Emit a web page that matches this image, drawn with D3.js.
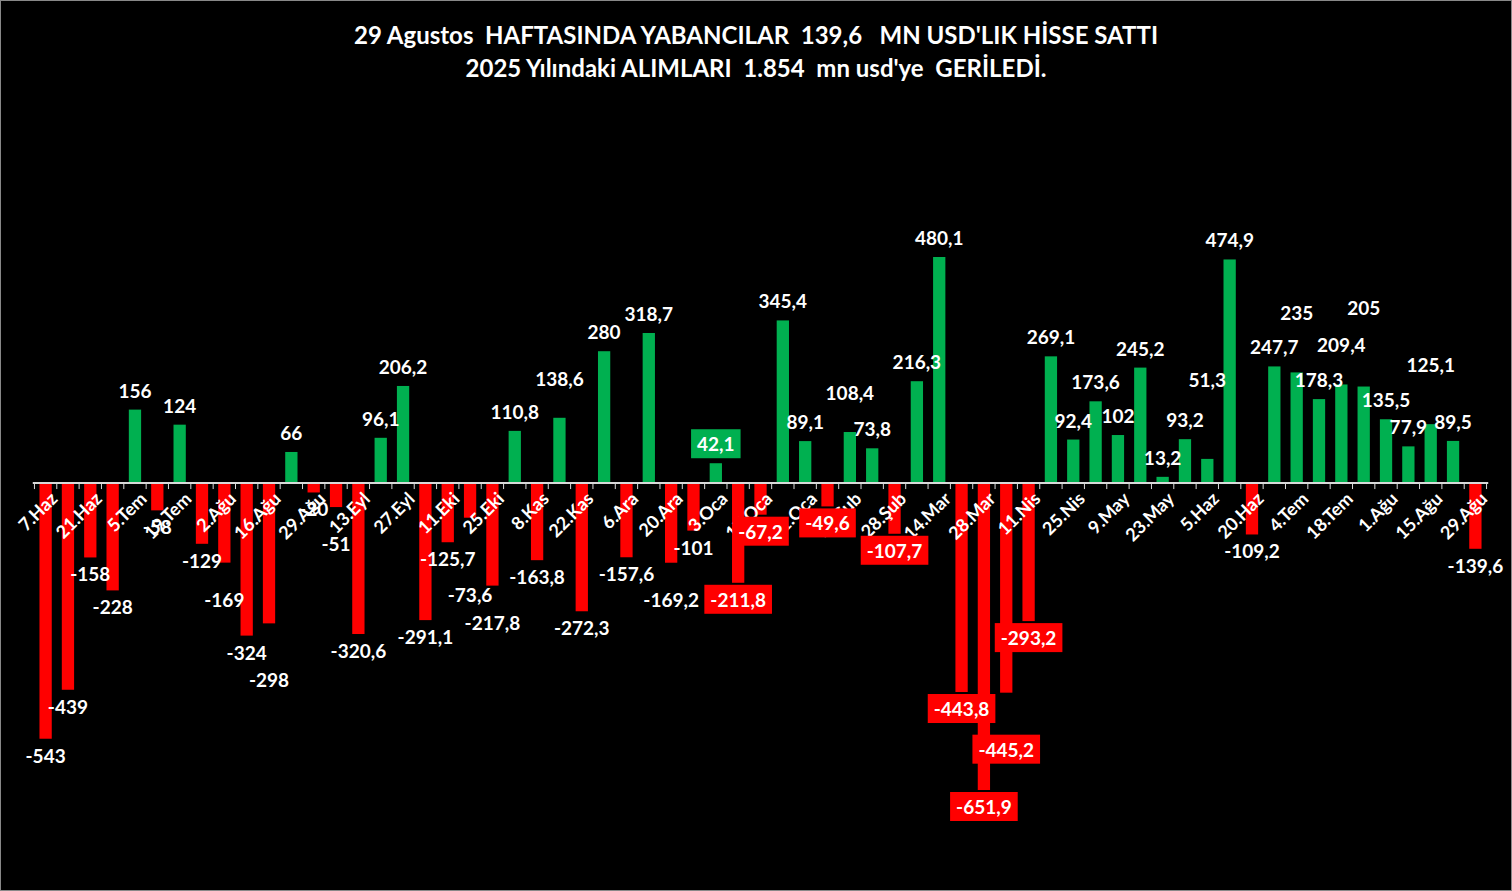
<!DOCTYPE html>
<html><head><meta charset="utf-8">
<script src="https://cdn.jsdelivr.net/npm/d3@7"></script>
<style>body{margin:0;background:#000}svg{display:block}text{font-family:Lato,"Open Sans",sans-serif;font-weight:bold}</style>
</head><body><svg id="c" width="1512" height="891"></svg>
<script>
const titleLines = ["29 Agustos  HAFTASINDA YABANCILAR  139,6   MN USD'LIK HİSSE SATTI","2025 Yılındaki ALIMLARI  1.854  mn usd'ye  GERİLEDİ."];
const values = [-543,-439,-158,-228,156,-58,124,-129,-169,-324,-298,66,-20,-51,-320.6,96.1,206.2,-291.1,-125.7,-73.6,-217.8,110.8,-163.8,138.6,-272.3,280,-157.6,318.7,-169.2,-101,42.1,-211.8,-67.2,345.4,89.1,-49.6,108.4,73.8,-107.7,216.3,480.1,-443.8,-651.9,-445.2,-293.2,269.1,92.4,173.6,102,245.2,13.2,93.2,51.3,474.9,-109.2,247.7,235,178.3,209.4,205,135.5,77.9,125.1,89.5,-139.6];
const tickLabels = ["7.Haz","21.Haz","5.Tem","19.Tem","2.Ağu","16.Ağu","29.Ağu","13.Eyl","27.Eyl","11.Eki","25.Eki","8.Kas","22.Kas","6.Ara","20.Ara","3.Oca","17.Oca","31.Oca","14.Şub","28.Şub","14.Mar","28.Mar","11.Nis","25.Nis","9.May","23.May","5.Haz","20.Haz","4.Tem","18.Tem","1.Ağu","15.Ağu","29.Ağu"];
const boxed = [30,31,32,35,38,41,42,43,44];

const svg = d3.select("#c");
svg.append("rect").attr("x",0.5).attr("y",0.5).attr("width",1511).attr("height",890).attr("fill","#000").attr("stroke","#888");
svg.selectAll(".t").data(titleLines).join("text").attr("x",756).attr("y",(d,i)=>44+i*33)
  .attr("text-anchor","middle").attr("fill","#fff").attr("font-size",24).style("white-space","pre").text(d=>d);

const idx = values.map((d,i)=>i);
const x = d3.scaleBand().domain(idx).range([35,1486]).paddingInner(0.45).paddingOuter(0.2);
const y = d3.scaleLinear().domain([-651.9,480.1]).range([790,257]);
const fmt = v => String(v).replace(".",",");

svg.selectAll(".bar").data(values).join("rect")
  .attr("x",(d,i)=>x(i)).attr("width",x.bandwidth())
  .attr("y",d=>y(Math.max(0,d))).attr("height",d=>Math.abs(y(d)-y(0)))
  .attr("fill",d=>d>=0?"#00b050":"#ff0000");

const step = x.step();
const ax = svg.append("g");
ax.append("line").attr("x1",x(0)-step*0.3).attr("x2",x(64)+x.bandwidth()+step*0.3).attr("y1",y(0)).attr("y2",y(0)).attr("stroke","#d9d9d9").attr("stroke-width",2);
ax.selectAll(".tk").data(d3.range(66)).join("line")
  .attr("x1",i=>x(0)-(step-x.bandwidth())/2+i*step).attr("x2",i=>x(0)-(step-x.bandwidth())/2+i*step)
  .attr("y1",y(0)).attr("y2",y(0)+6).attr("stroke","#d9d9d9");
ax.selectAll(".tl").data(tickLabels).join("text")
  .attr("transform",(d,i)=>`translate(${x(i*2)+x.bandwidth()/2+4},${y(0)+8}) rotate(-45)`)
  .attr("text-anchor","end").attr("dy","0.7em").attr("fill","#fff").attr("font-size",18).text(d=>d);

// value labels with greedy collision avoidance
const lab = svg.append("g");
const placed = [];
const hit = (a,b)=>!(a.x+a.w<b.x||b.x+b.w<a.x||a.y+a.h<b.y||b.y+b.h<a.y);
values.forEach((v,i)=>{
  const cx = x(i)+x.bandwidth()/2;
  let yy = v>=0 ? y(v)-12 : y(v)+24;
  const t = lab.append("text").attr("x",cx).attr("y",yy).attr("text-anchor","middle")
    .attr("fill","#fff").attr("font-size",19).text(fmt(v));
  const pad = boxed.includes(i)?5:1;
  let b = t.node().getBBox();
  let box = {x:b.x-pad,y:b.y-pad,w:b.width+2*pad,h:b.height+2*pad};
  let n=0;
  while(placed.some(p=>hit(p,box)) && n<8){
    yy += v>=0 ? -20 : 20; t.attr("y",yy);
    b = t.node().getBBox(); box = {x:b.x-pad,y:b.y-pad,w:b.width+2*pad,h:b.height+2*pad}; n++;
  }
  placed.push(box);
  if(boxed.includes(i)){
    lab.insert("rect","text").attr("x",b.x-6).attr("y",b.y-3).attr("width",b.width+12).attr("height",b.height+6)
      .attr("fill",v>=0?"#00b050":"#ff0000");
    lab.node().appendChild(t.node());
  }
});
</script></body></html>
